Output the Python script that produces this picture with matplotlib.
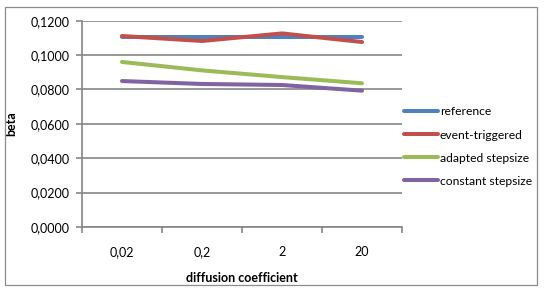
import matplotlib.pyplot as plt
from matplotlib.patches import Rectangle
from matplotlib.ticker import FuncFormatter, FixedLocator

categorias = ["0,02", "0,2", "2", "20"]
reference = [0.1107, 0.1107, 0.1107, 0.1107]
event_triggered = [0.1111, 0.1082, 0.1126, 0.1076]
adapted_stepsize = [0.0960, 0.0911, 0.0872, 0.0836]
constant_stepsize = [0.0849, 0.0832, 0.0826, 0.0793]

plt.rcParams['font.family'] = ['Lato', 'DejaVu Sans']

fig = plt.figure(figsize=(5.45, 2.91), dpi=100)
ax = fig.add_axes([82/545, 1 - 227/291, 320/545, (227 - 20.7)/291])

# borda externa do grafico
fig.patches.append(Rectangle((5/545, 1 - 285/291), 532/545, 278/291,
                             transform=fig.transFigure, fill=False,
                             edgecolor='#8c8c8c', linewidth=0.9))

x = list(range(len(categorias)))
ax.plot(x, reference, color='#4F81BD', linewidth=2.9, label="reference", solid_capstyle='round')
ax.plot(x, event_triggered, color='#C0504D', linewidth=2.9, label="event-triggered", solid_capstyle='round')
ax.plot(x, adapted_stepsize, color='#9BBB59', linewidth=2.9, label="adapted stepsize", solid_capstyle='round')
ax.plot(x, constant_stepsize, color='#8064A2', linewidth=2.9, label="constant stepsize", solid_capstyle='round')

ax.set_xlim(-0.5, 3.5)
ax.set_ylim(0, 0.12)
ax.set_yticks([0, 0.02, 0.04, 0.06, 0.08, 0.10, 0.12])
ax.yaxis.set_major_formatter(FuncFormatter(lambda v, p: ("%.4f" % v).replace('.', ',')))
ax.set_xticks(x)
ax.set_xticklabels(categorias)
ax.xaxis.set_minor_locator(FixedLocator([-0.5, 0.5, 1.5, 2.5, 3.5]))
ax.tick_params(axis='x', which='major', length=0, pad=14, labelsize=9, colors='black')
ax.tick_params(axis='x', which='minor', length=4, width=1.2, color='#868686', direction='out')
ax.tick_params(axis='y', length=4, width=1.2, color='#868686', labelsize=9, pad=5)

ax.grid(axis='y', color='#868686', linewidth=1.2)
ax.set_axisbelow(True)
for s in ['top', 'right']:
    ax.spines[s].set_visible(False)
for s in ['left', 'bottom']:
    ax.spines[s].set_color('#868686')
    ax.spines[s].set_linewidth(1.2)

ax.set_ylabel("beta", fontweight='bold', fontsize=9)
ax.yaxis.set_label_coords(-65/320, 0.5)
ax.set_xlabel("diffusion coefficient", fontweight='bold', fontsize=9)
ax.xaxis.set_label_coords(0.5, -45/206.3)

legend = ax.legend(loc='center left', bbox_to_anchor=(1.0 + 2/320, 0.39), frameon=False,
                   fontsize=8.7, handlelength=2.8, handletextpad=0.15, labelspacing=1.0,
                   borderaxespad=0.0, borderpad=0.0)

plt.savefig("out.png")
